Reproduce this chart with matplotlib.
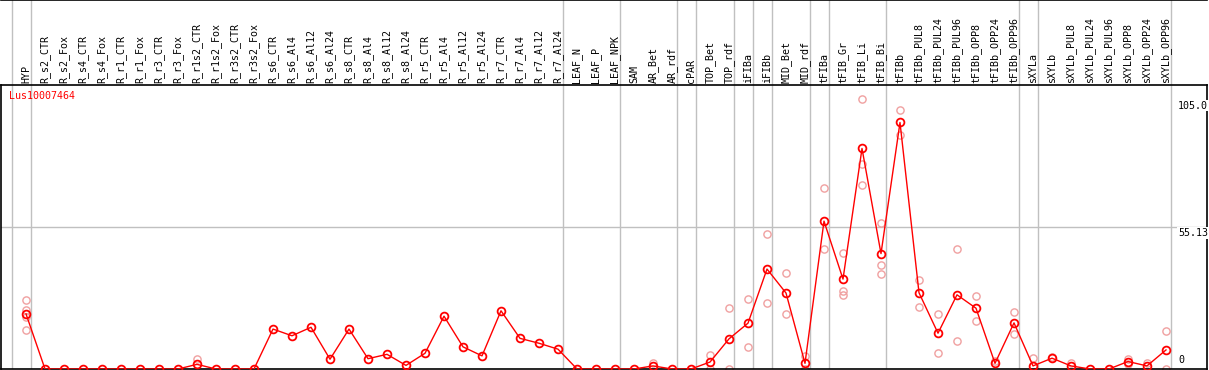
import numpy as np
import matplotlib
matplotlib.use("Agg")
import matplotlib.pyplot as plt
import matplotlib.transforms as mtransforms

# sample names (columns of the expression chart)
samples = [
    "HYP",
    "R_s2_CTR", "R_s2_Fox", "R_s4_CTR", "R_s4_Fox", "R_r1_CTR", "R_r1_Fox",
    "R_r3_CTR", "R_r3_Fox", "R_r1s2_CTR", "R_r1s2_Fox", "R_r3s2_CTR", "R_r3s2_Fox",
    "R_s6_CTR", "R_s6_Al4", "R_s6_Al12", "R_s6_Al24",
    "R_s8_CTR", "R_s8_Al4", "R_s8_Al12", "R_s8_Al24",
    "R_r5_CTR", "R_r5_Al4", "R_r5_Al12", "R_r5_Al24",
    "R_r7_CTR", "R_r7_Al4", "R_r7_Al12", "R_r7_Al24",
    "LEAF_N", "LEAF_P", "LEAF_NPK",
    "SAM", "AR_Bet", "AR_rdf",
    "cPAR",
    "TOP_Bet", "TOP_rdf",
    "iFIBa",
    "iFIBb",
    "MID_Bet", "MID_rdf",
    "tFIBa",
    "tFIB_Gr", "tFIB_Li", "tFIB_Bi",
    "tFIBb", "tFIBb_PUL8", "tFIBb_PUL24", "tFIBb_PUL96",
    "tFIBb_OPP8", "tFIBb_OPP24", "tFIBb_OPP96",
    "sXYLa",
    "sXYLb", "sXYLb_PUL8", "sXYLb_PUL24", "sXYLb_PUL96",
    "sXYLb_OPP8", "sXYLb_OPP24", "sXYLb_OPP96",
]

# mean expression per sample
means = [
    21.4,
    0, 0, 0, 0, 0, 0, 0, 0, 1.8, 0, 0, 0,
    15.5, 12.9, 16.2, 3.8,
    15.5, 4.0, 5.7, 1.4,
    6.1, 20.5, 8.6, 5.1,
    22.6, 11.9, 10.0, 7.7,
    0, 0, 0,
    0, 1.2, 0,
    0,
    2.7, 11.7,
    17.8,
    38.8,
    29.5, 2.2,
    57.4,
    34.9, 85.6, 44.8,
    95.7, 29.6, 13.9, 28.8,
    23.6, 2.2, 17.9,
    1.2,
    4.2, 1.2, 0, 0,
    2.9, 1.2, 7.4,
]

# individual replicate values (index of sample, value)
rep_idx = [0, 0, 0, 0, 9, 33, 36, 36, 37, 37, 38, 38, 39, 39, 40, 40, 41, 41,
           42, 42, 43, 43, 43, 44, 44, 44, 45, 45, 45, 46, 46, 47, 47,
           48, 48, 49, 49, 50, 50, 51, 52, 52, 53, 54, 55, 58, 58, 59, 60, 60]
rep_val = [26.9, 23.0, 20.0, 15.2, 4.0, 2.5, 5.3, 0, 23.6, 0, 27.1, 8.4, 52.5, 25.6,
           37.3, 21.4, 5.1, 0, 70.1, 46.6, 45.1, 30.4, 28.7, 105.0, 79.5, 71.6,
           56.8, 40.5, 36.9, 100.4, 91.0, 34.7, 24.0, 21.4, 6.1, 46.6, 10.8,
           28.3, 18.7, 3.2, 22.2, 13.5, 4.3, 4.6, 2.5, 4.0, 1.8, 2.5, 14.8, 0]

# last sample of each tissue group (vertical separators)
group_ends = [-1, 0, 28, 31, 34, 35, 37, 38, 39, 41, 42, 45, 52, 53, 60]

gene = "Lus10007464"

W, H = 1209, 370
fig = plt.figure(figsize=(W / 100, H / 100), dpi=100)
font = "DejaVu Sans Mono"

left_px, right_px = 1, 1207
header_px = 85
ax_h = fig.add_axes([left_px / W, 1 - header_px / H, (right_px - left_px) / W, header_px / H])
ax = fig.add_axes([left_px / W, 1 / H, (right_px - left_px) / W, (H - header_px - 1) / H])

x = np.arange(len(samples))
xlim = ((left_px - 26) / 19, (right_px - 26) / 19)
ymax = max(rep_val)
top = ymax * 1.05

for a in (ax, ax_h):
    a.set_xlim(*xlim)
    a.set_xticks([])
    a.set_yticks([])
    for s in a.spines.values():
        s.set_color("black")
        s.set_linewidth(1.2)
    for g in group_ends:
        a.axvline(g + 0.24, color="#c0c0c0", lw=1.0, zorder=0)

ax_h.set_ylim(0, header_px)
ax_h.spines["left"].set_visible(False)
ax_h.spines["right"].set_visible(False)
ax_h.spines["bottom"].set_visible(False)
for i, name in enumerate(samples):
    ax_h.text(i, 2, name, rotation=90, ha="center", va="bottom",
              fontsize=7.2, family=font, color="black")

ax.set_ylim(0, top)
ax.axhline(top / 2, color="#c0c0c0", lw=1.0, zorder=0)

ax.plot(rep_idx, rep_val, linestyle="none", marker="o", ms=5.2,
        mfc="none", mec="#f0a0a0", mew=1.0, zorder=2)
ax.plot(x, means, color="red", lw=1.0, marker="o", ms=5.6,
        mfc="none", mec="red", mew=1.3, zorder=3)

lab_x = (1178 - left_px) / (right_px - left_px)
trans = mtransforms.blended_transform_factory(ax.transAxes, ax.transData)
off = lambda dy: mtransforms.offset_copy(trans, fig=fig, y=dy, units="dots")
ax.text(lab_x, ymax, f"{ymax:.1f}", transform=off(-2), ha="left", va="top",
        fontsize=7.2, family=font, color="black", bbox=dict(fc="white", ec="none", pad=0.5))
ax.text(lab_x, top / 2, f"{top / 2 + 1e-9:.2f}", transform=off(-1), ha="left", va="top",
        fontsize=7.2, family=font, color="black", bbox=dict(fc="white", ec="none", pad=0.5))
ax.text(lab_x, 0, "0", transform=off(4), ha="left", va="bottom",
        fontsize=7.2, family=font, color="black")

ax.text(8.5 / (right_px - left_px), 1 - 6 / (H - header_px), gene, transform=ax.transAxes,
        ha="left", va="top", fontsize=7.2, family=font, color="red")

fig.savefig("out.png", dpi=100)
